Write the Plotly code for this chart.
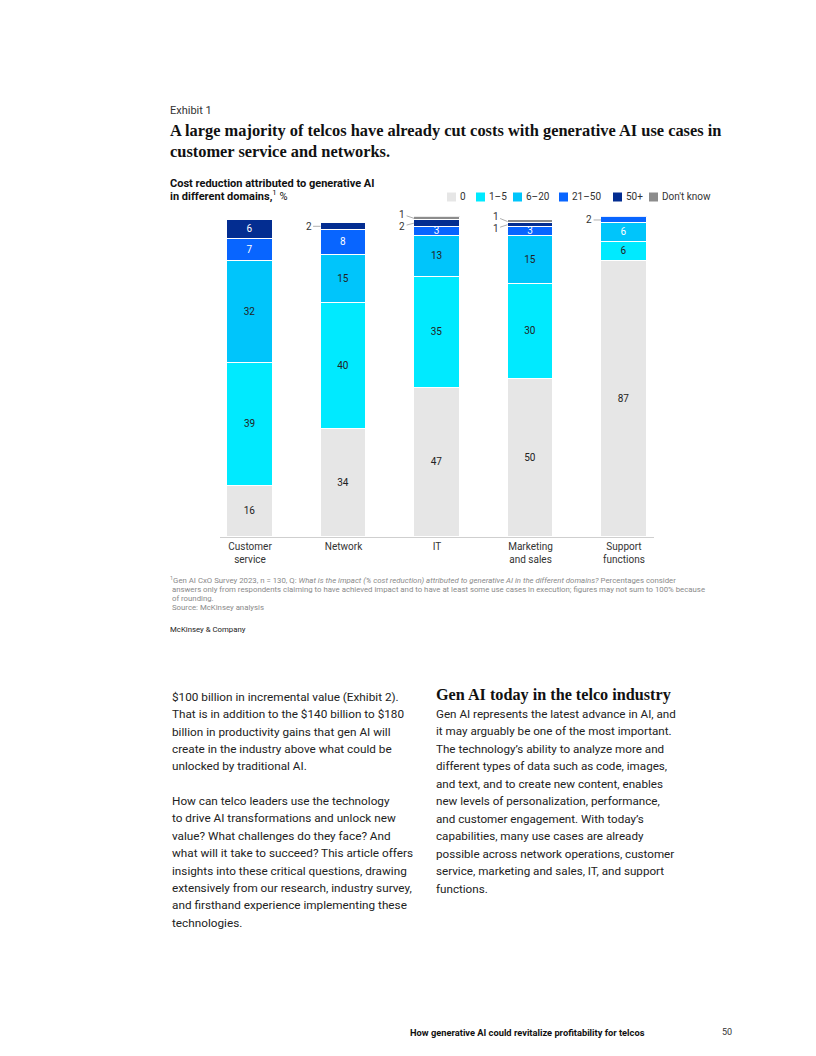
import plotly.graph_objects as go

# ---------------- data ----------------
categories = ["Customer service", "Network", "IT", "Marketing and sales", "Support functions"]
tick_labels = ["Customer<br>service", "Network", "IT", "Marketing<br>and sales", "Support<br>functions"]
series_names = ["0", "1–5", "6–20", "21–50", "50+", "Don't know"]
vals_0 = [16, 34, 47, 50, 87]
vals_1_5 = [39, 40, 35, 30, 6]
vals_6_20 = [32, 15, 13, 15, 6]
vals_21_50 = [7, 8, 3, 3, 2]
vals_50_plus = [6, 2, 2, 1, 0]
vals_dont_know = [0, 0, 1, 1, 0]

# ---------------- style ----------------
colors = ["#e6e6e6", "#00eaff", "#00c5fb", "#0865ff", "#032d91", "#8c8c8c"]
text_colors = [
    ["#222"] * 5,
    ["#222"] * 5,
    ["#222", "#222", "#222", "#222", "#ffffff"],
    ["#ffffff"] * 5,
    ["#ffffff"] * 5,
    ["#ffffff"] * 5,
]
SANS = "Roboto, Liberation Sans, Arial, sans-serif"
SERIF = "Liberation Serif, DejaVu Serif, serif"
W, H = 816, 1056

series = [vals_0, vals_1_5, vals_6_20, vals_21_50, vals_50_plus, vals_dont_know]
x_idx = list(range(len(categories)))
BAR_W = 0.49
INSIDE_MIN = 3

# plot area in pixels
PX_L, PX_R, PX_T, PX_B = 220, 654, 216.8, 537
Y_MAX = 101
X_RANGE = [-0.321, 4.321]


def px(xp):
    return xp / W


def py(yp):
    return 1 - yp / H


fig = go.Figure()
for name, vals, col, tcol in zip(series_names, series, colors, text_colors):
    fig.add_trace(go.Bar(
        x=x_idx, y=vals, name=name, width=BAR_W,
        marker=dict(color=col, line=dict(color="white", width=1)),
        text=[str(v) if v >= INSIDE_MIN else "" for v in vals],
        textposition="inside", insidetextanchor="middle", textangle=0,
        textfont=dict(family=SANS, size=10, color=tcol),
        showlegend=False, hoverinfo="skip",
    ))

annotations = []
shapes = []

# outside labels with leader lines for small segments
ppu = (PX_B - PX_T) / Y_MAX
for i in x_idx:
    cum = 0
    small = []
    for vals in series:
        v = vals[i]
        if 0 < v < INSIDE_MIN:
            small.append((cum + v / 2, v))
        cum += v
    small.sort(key=lambda t: -t[0])
    offsets = [0] * len(small)
    if len(small) == 2:
        d = (small[0][0] - small[1][0]) * ppu
        extra = max(0, 11 - d)
        offsets = [-extra / 2 - 1, extra / 2]
    for (c, v), off in zip(small, offsets):
        annotations.append(dict(
            x=i - BAR_W / 2, y=c, xref="x", yref="y",
            text=str(v), showarrow=True, arrowhead=0, arrowwidth=0.8,
            arrowcolor="#9a9a9a", ax=-12, ay=off, standoff=0,
            font=dict(family=SANS, size=10, color="#333"),
        ))

# manual legend
legend_swatch_x = [447, 476, 513, 559, 613, 649]
for name, col, lx in zip(series_names, colors, legend_swatch_x):
    shapes.append(dict(type="rect", xref="paper", yref="paper",
                       x0=px(lx), x1=px(lx + 9), y0=py(201.5), y1=py(192.5),
                       fillcolor=col, line=dict(width=0)))
    annotations.append(dict(x=px(lx + 11), y=py(197), xref="paper", yref="paper",
                            text=name, showarrow=False, xanchor="left", yanchor="middle",
                            font=dict(family=SANS, size=10, color="#333")))


def txt(x, y, text, size, color="#222", family=SANS, anchor="left"):
    annotations.append(dict(x=px(x - 2), y=py(y), xref="paper", yref="paper", text=text,
                            showarrow=False, xanchor=anchor, yanchor="middle",
                            font=dict(family=family, size=size, color=color)))


# header
txt(170, 111, "Exhibit 1", 11, "#333")
txt(170, 131, "<b>A large majority of telcos have already cut costs with generative AI use cases in</b>", 16.4, "#111", SERIF)
txt(170, 151, "<b>customer service and networks.</b>", 16.4, "#111", SERIF)
txt(170, 183, "<b>Cost reduction attributed to generative AI</b>", 11, "#111")
txt(170, 196, "<b>in different domains,</b><sup>1</sup> %", 11, "#111")

# footnotes
foot = [
    "<sup>1</sup>Gen AI CxO Survey 2023, n = 130, Q: <i>What is the impact (% cost reduction) attributed to generative AI in the different domains?</i> Percentages consider",
    " answers only from respondents claiming to have achieved impact and to have at least some use cases in execution; figures may not sum to 100% because",
    " of rounding.",
    " Source: McKinsey analysis",
]
for k, line in enumerate(foot):
    txt(170, 580 + k * 9, line, 7.8, "#8a8a8a")
txt(170, 629, "McKinsey & Company", 7.8, "#222")

# body text
left_lines = [
    "$100 billion in incremental value (Exhibit 2).",
    "That is in addition to the $140 billion to $180",
    "billion in productivity gains that gen AI will",
    "create in the industry above what could be",
    "unlocked by traditional AI.",
    "",
    "How can telco leaders use the technology",
    "to drive AI transformations and unlock new",
    "value? What challenges do they face? And",
    "what will it take to succeed? This article offers",
    "insights into these critical questions, drawing",
    "extensively from our research, industry survey,",
    "and firsthand experience implementing these",
    "technologies.",
]
for k, line in enumerate(left_lines):
    if line:
        txt(172, 697 + k * 17.35, line, 11.75, "#222")

txt(436, 695, "<b>Gen AI today in the telco industry</b>", 16.2, "#111", SERIF)
right_lines = [
    "Gen AI represents the latest advance in AI, and",
    "it may arguably be one of the most important.",
    "The technology’s ability to analyze more and",
    "different types of data such as code, images,",
    "and text, and to create new content, enables",
    "new levels of personalization, performance,",
    "and customer engagement. With today’s",
    "capabilities, many use cases are already",
    "possible across network operations, customer",
    "service, marketing and sales, IT, and support",
    "functions.",
]
for k, line in enumerate(right_lines):
    txt(436, 714 + k * 17.47, line, 11.65, "#222")

# page footer
txt(410, 1032, "<b>How generative AI could revitalize profitability for telcos</b>", 9.3, "#111")
txt(722, 1032, "50", 9, "#333")

fig.update_layout(
    width=W, height=H, margin=dict(l=0, r=0, t=0, b=0),
    paper_bgcolor="white", plot_bgcolor="white",
    barmode="stack", bargap=0,
    uniformtext=dict(minsize=10, mode="show"),
    xaxis=dict(domain=[px(PX_L), px(PX_R)], range=X_RANGE,
               tickvals=x_idx, ticktext=tick_labels, ticks="",
               showline=True, linecolor="#cfcfcf", linewidth=1,
               showgrid=False, zeroline=False, fixedrange=True,
               tickfont=dict(family=SANS, size=10, color="#333")),
    yaxis=dict(domain=[py(PX_B), py(PX_T)], range=[0, Y_MAX],
               showticklabels=False, showgrid=False, zeroline=False,
               showline=False, fixedrange=True),
    annotations=annotations, shapes=shapes,
    showlegend=False,
)

fig.write_html("out.html", config={"displayModeBar": False},
               post_script="document.body.style.margin='0';")
